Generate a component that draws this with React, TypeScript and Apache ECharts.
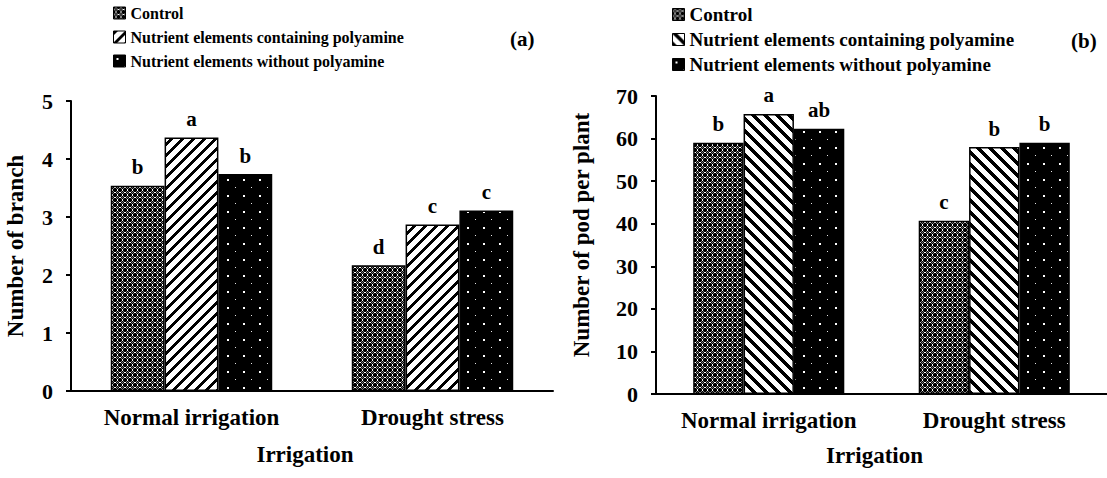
import React, { useEffect, useRef } from 'react';
import * as echarts from 'echarts';

// ---------- data ----------
const categories = ['Normal irrigation', 'Drought stress'];
const seriesNames = [
  'Control',
  'Nutrient elements containing polyamine',
  'Nutrient elements without polyamine',
];

// panel (a): number of branch
const branchControl = [3.54, 2.17];
const branchWithPolyamine = [4.37, 2.87];
const branchWithoutPolyamine = [3.74, 3.11];
const branchLetters = [
  ['b', 'd'],
  ['a', 'c'],
  ['b', 'c'],
];
const branchAxis = { min: 0, max: 5, interval: 1 };

// panel (b): number of pod per plant
const podControl = [59.0, 40.7];
const podWithPolyamine = [65.8, 58.0];
const podWithoutPolyamine = [62.3, 59.0];
const podLetters = [
  ['b', 'c'],
  ['a', 'b'],
  ['ab', 'b'],
];
const podAxis = { min: 0, max: 70, interval: 10 };

// ---------- patterns ----------
const FONT = 'Liberation Serif, Times New Roman, serif';

function tile(w: number, h: number, fn: (x: number, y: number) => number) {
  const c = document.createElement('canvas');
  c.width = w;
  c.height = h;
  const ctx = c.getContext('2d')!;
  const img = ctx.createImageData(w, h);
  for (let y = 0; y < h; y++) {
    for (let x = 0; x < w; x++) {
      const v = fn(x, y);
      const i = (y * w + x) * 4;
      img.data[i] = v;
      img.data[i + 1] = v;
      img.data[i + 2] = v;
      img.data[i + 3] = 255;
    }
  }
  ctx.putImageData(img, 0, 0);
  return { image: c, repeat: 'repeat', imageWidth: w, imageHeight: h } as any;
}

function bitmap(rows: string[]) {
  return tile(rows[0].length, rows.length, (x, y) => {
    const ch = rows[y][x];
    return ch === '#' ? 0 : ch === '+' ? 120 : 255;
  });
}

function stripes(period: number, thick: number, dir: 1 | -1) {
  return tile(period, period, (x, y) => {
    const d = dir > 0 ? x + y : x - y + period * 4;
    const v = d % period;
    return v < thick ? 0 : 255;
  });
}

function dots() {
  return tile(16, 16, (x, y) => {
    if ((x === 3 || x === 4) && (y === 3 || y === 4)) return 255;
    if (x === 11 && y === 11) return 230;
    return 0;
  });
}

function App() {
  const ref = useRef<HTMLDivElement>(null);

  useEffect(() => {
    if (!ref.current) return;
    const chart = echarts.init(ref.current, undefined, { renderer: 'svg' });

    const controlPat = bitmap([
      '##.##',
      '#+#+#',
      '.#+#.',
      '#+#+#',
      '##.##',
    ]);
    const slashPat = stripes(11, 4, 1);
    const backPat = stripes(12, 5, -1);
    const dotPat = dots();

    const leftPatterns = [controlPat, slashPat, dotPat];
    const rightPatterns = [controlPat, backPat, dotPat];

    const tickLabel = { fontFamily: FONT, fontWeight: 'bold', fontSize: 22, color: '#000' };
    const catLabel = { fontFamily: FONT, fontWeight: 'bold', fontSize: 23, color: '#000' };

    const mkSeries = (
      idx: number,
      data: number[],
      letters: string[],
      pattern: any,
      axis: number
    ) => ({
      type: 'bar',
      name: seriesNames[idx],
      xAxisIndex: axis,
      yAxisIndex: axis,
      data,
      barGap: '0%',
      barCategoryGap: '33%',
      itemStyle: { color: pattern, borderColor: '#000', borderWidth: 1.5 },
      emphasis: { disabled: true },
      label: {
        show: true,
        position: 'top',
        distance: 8,
        fontFamily: FONT,
        fontWeight: 'bold',
        fontSize: 21,
        color: '#000',
        formatter: (p: any) => letters[p.dataIndex],
      },
    });

    const yAxisBase = (range: any, gridIndex: number, name: string, nameGap: number, shift: number) => ({
      type: 'value',
      gridIndex,
      min: range.min,
      max: range.max,
      interval: range.interval,
      name,
      nameLocation: 'middle',
      nameRotate: 90,
      nameGap,
      nameTextStyle: { ...catLabel, padding: [0, 0, 0, shift] },
      axisLine: { show: true, lineStyle: { color: '#000', width: 2 } },
      axisTick: { show: true, inside: false, length: 5, lineStyle: { color: '#000', width: 2 } },
      splitLine: { show: false },
      axisLabel: { ...tickLabel, margin: 18 },
    });

    const xAxisBase = (gridIndex: number, nameGap: number) => ({
      type: 'category',
      gridIndex,
      data: categories,
      name: 'Irrigation',
      nameLocation: 'middle',
      nameGap,
      nameTextStyle: { ...catLabel, padding: [0, 14, 0, 0] },
      axisLine: { show: true, lineStyle: { color: '#000', width: 2 } },
      axisTick: { show: false },
      axisLabel: { ...catLabel, margin: 15, interval: 0, hideOverlap: false },
    });

    const legendText = (size: number) => ({
      fontFamily: FONT,
      fontWeight: 'bold',
      fontSize: size,
      color: '#000',
    });

    chart.setOption({
      animation: false,
      backgroundColor: '#fff',
      grid: [
        { left: 71, top: 101, width: 482, height: 290 },
        { left: 656, top: 96, width: 459, height: 298 },
      ],
      legend: [
        {
          orient: 'vertical',
          left: 113,
          top: 5,
          padding: 0,
          itemWidth: 12,
          itemHeight: 12,
          itemGap: 8,
          icon: 'rect',
          selectedMode: false,
          textStyle: legendText(16),
          data: seriesNames.map((n, i) => ({
            name: n,
            itemStyle: { color: leftPatterns[i], borderColor: '#000', borderWidth: 1 },
          })),
        },
        {
          orient: 'vertical',
          left: 672,
          top: 5,
          padding: 0,
          itemWidth: 12,
          itemHeight: 12,
          itemGap: 6,
          icon: 'rect',
          selectedMode: false,
          textStyle: legendText(19),
          data: seriesNames.map((n, i) => ({
            name: n,
            itemStyle: { color: rightPatterns[i], borderColor: '#000', borderWidth: 1 },
          })),
        },
      ],
      graphic: [
        {
          type: 'text',
          left: 510,
          top: 28,
          style: { text: '(a)', font: `bold 21px ${FONT}`, fill: '#000' },
        },
        {
          type: 'text',
          left: 1071,
          top: 30,
          style: { text: '(b)', font: `bold 21px ${FONT}`, fill: '#000' },
        },
      ],
      xAxis: [xAxisBase(0, 52), xAxisBase(1, 50)],
      yAxis: [
        yAxisBase(branchAxis, 0, 'Number of branch', 44, 0),
        yAxisBase(podAxis, 1, 'Number of pod per plant', 63, 20),
      ],
      series: [
        mkSeries(0, branchControl, branchLetters[0], leftPatterns[0], 0),
        mkSeries(1, branchWithPolyamine, branchLetters[1], leftPatterns[1], 0),
        mkSeries(2, branchWithoutPolyamine, branchLetters[2], leftPatterns[2], 0),
        mkSeries(0, podControl, podLetters[0], rightPatterns[0], 1),
        mkSeries(1, podWithPolyamine, podLetters[1], rightPatterns[1], 1),
        mkSeries(2, podWithoutPolyamine, podLetters[2], rightPatterns[2], 1),
      ],
    });

    return () => chart.dispose();
  }, []);

  return (
    <div
      ref={ref}
      style={{ position: 'absolute', left: 0, top: 0, width: 1107, height: 478, background: '#fff' }}
    />
  );
}

export default App;
